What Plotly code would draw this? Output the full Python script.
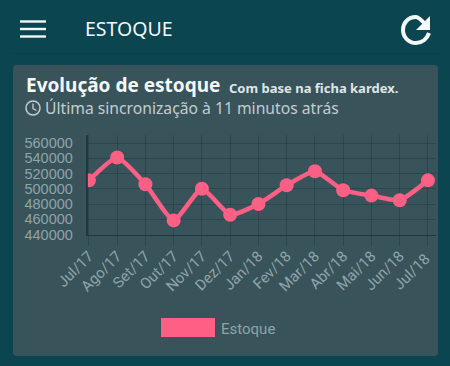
import plotly.graph_objects as go

months = ["Jul/17","Ago/17","Set/17","Out/17","Nov/17","Dez/17","Jan/18","Fev/18","Mar/18","Abr/18","Mai/18","Jun/18","Jul/18 "]
stock = [511000,541000,506000,458500,500000,466000,480000,504500,523000,498000,491000,485000,511000]
y_ticks = [440000,460000,480000,500000,520000,540000,560000]
series_name = "Estoque"
W, H = 450, 366
BG = "#0a4550"; CARD = "#39535b"; PINK = "#fe5f85"; MUTED = "#8fa4a8"; GRID = "rgba(10,40,48,0.28)"; AXIS = "rgba(10,40,48,0.6)"

def px(x): return x / W
def py(y): return 1 - y / H

fig = go.Figure(go.Scatter(
    x=list(range(len(months))), y=stock, mode="lines+markers", name=series_name,
    line=dict(color=PINK, width=4.5, shape="spline", smoothing=0.5), marker=dict(color=PINK, size=14), showlegend=False))

shapes = []
def rect(x0, y0, x1, y1, color):
    shapes.append(dict(type="rect", xref="paper", yref="paper", x0=px(x0), x1=px(x1), y0=py(y0), y1=py(y1),
                       fillcolor=color, line_width=0, layer="below"))
def path(d, fill=None, stroke=None, w=0, layer="above"):
    shapes.append(dict(type="path", xref="paper", yref="paper", path=d, fillcolor=fill,
                       line=dict(color=stroke, width=w) if stroke else dict(width=0), layer=layer))
def P(x, y): return f"{px(x):.5f},{py(y):.5f}"
def rounded(x0, y0, x1, y1, r):
    return (f"M{P(x0+r,y0)} L{P(x1-r,y0)} Q{P(x1,y0)} {P(x1,y0+r)} L{P(x1,y1-r)} Q{P(x1,y1)} {P(x1-r,y1)} "
            f"L{P(x0+r,y1)} Q{P(x0,y1)} {P(x0,y1-r)} L{P(x0,y0+r)} Q{P(x0,y0)} {P(x0+r,y0)} Z")

path(rounded(13, 65, 438, 356, 4), fill=CARD, layer="below")
rect(12, 53, 438, 54, "#0a404a")
for y in (21.5, 29, 36.5):
    rect(20, y - 1.2, 46, y + 1.2, "#f4f8f8")
# refresh icon
path(f"M{P(425,24)} C{P(421,19.5)} {P(418,17)} {P(416,17)} C{P(408,17)} {P(403,23)} {P(403,30)} "
     f"C{P(403,37.5)} {P(409,43)} {P(416,43)} C{P(422,43)} {P(427,39)} {P(429,33)}",
     stroke="#f4f8f8", w=4)
path(f"M{P(430,16)} L{P(430,30)} L{P(416,30)} Z", fill="#f4f8f8")
# clock icon
path(f"M{P(26,108)} C{P(26,104)} {P(29,101)} {P(33,101)} C{P(37,101)} {P(40,104)} {P(40,108)} "
     f"C{P(40,112)} {P(37,115)} {P(33,115)} C{P(29,115)} {P(26,112)} {P(26,108)} Z", stroke="#c2cdd0", w=1.5)
path(f"M{P(33,103.5)} L{P(33,108.5)} L{P(36.5,110.5)}", stroke="#c2cdd0", w=1.3)
# legend swatch
rect(161, 318, 215, 337, PINK)

def note(x, y, text, size, color, family="Noto Sans"):
    return dict(xref="paper", yref="paper", x=px(x), y=py(y), text=text, showarrow=False, xanchor="left",
                yanchor="middle", xshift=-1, font=dict(family=family, size=size, color=color))

annotations = [
    note(84, 29, "ESTOQUE", 19.5, "#f4f8f8"),
    note(25, 85, "<b>Evolução de estoque</b>", 19, "#f4f8f8"),
    note(228, 88, "<b>Com base na ficha kardex.</b>", 13, "#dfe6e7"),
    note(44, 108, "Última sincronização à 11 minutos atrás", 15.7, "#c2cdd0"),
    note(220, 328.5, series_name, 15, MUTED, "Roboto"),
]

fig.update_layout(
    width=W, height=H, margin=dict(l=0, r=0, t=0, b=0), paper_bgcolor=BG, plot_bgcolor="rgba(0,0,0,0)",
    shapes=shapes, annotations=annotations, showlegend=False,
    xaxis=dict(domain=[px(87.5), px(436)], range=[-0.05, 12.285], tickmode="array", tickvals=list(range(len(months))),
               ticktext=months, tickangle=-45, tickfont=dict(family="Roboto", size=15, color=MUTED), automargin=False,
               showgrid=True, gridcolor=GRID, gridwidth=1, ticks="outside", ticklen=10, tickcolor=GRID, zeroline=False,
               showline=True, linecolor=AXIS, linewidth=1, ticklabelstandoff=-4),
    yaxis=dict(domain=[py(234.5), py(135)], range=[440000, 570500], tickvals=y_ticks, tickformat="d", automargin=False,
               tickfont=dict(family="Liberation Sans", size=14.5, color=MUTED),
               showgrid=True, gridcolor=GRID, gridwidth=1, ticks="", zeroline=False, showline=True, linecolor=AXIS, linewidth=1.5,
               ticklabelstandoff=10),
)
fig.write_html("out.html", post_script="document.body.style.margin='0';document.body.style.background='%s';" % BG,
               config=dict(displayModeBar=False))
